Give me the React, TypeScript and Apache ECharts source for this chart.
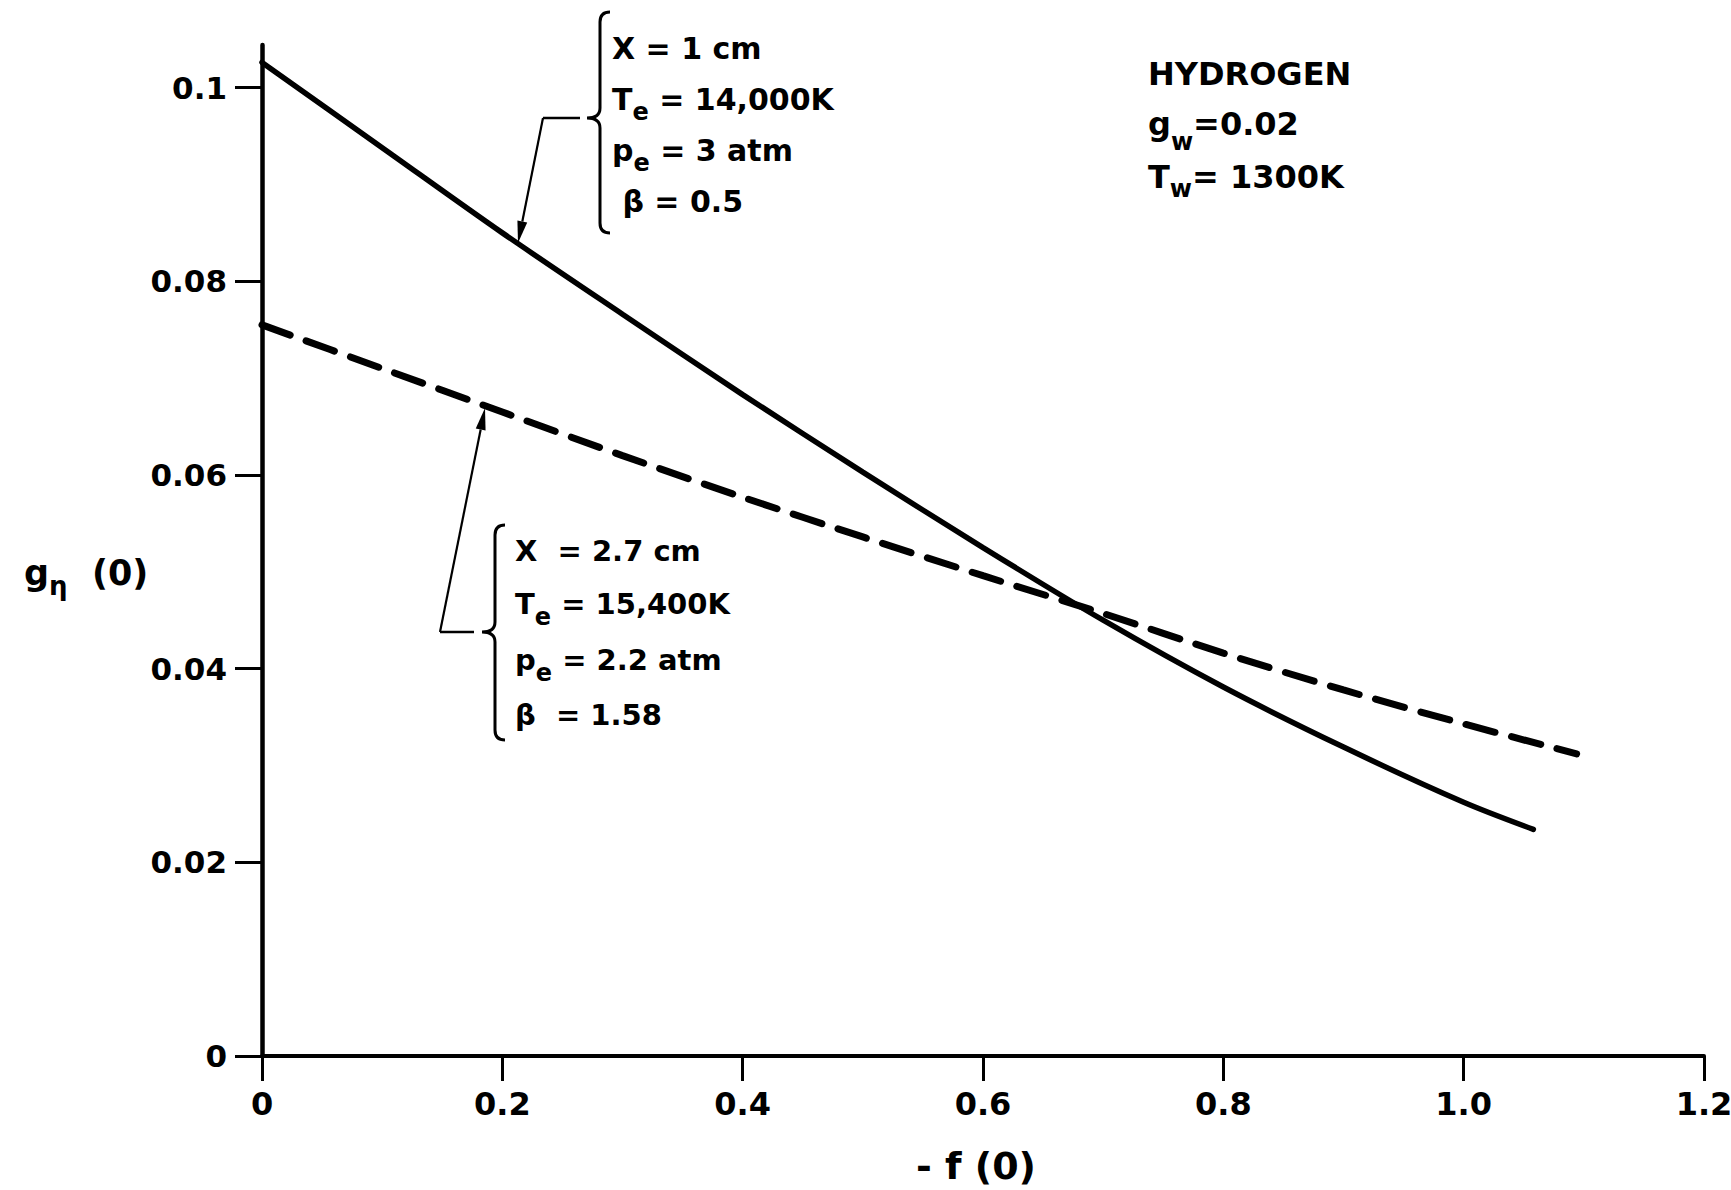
import React, { useEffect, useRef } from 'react';
import * as echarts from 'echarts';

// ---- data ----
const xTicks = [0, 0.2, 0.4, 0.6, 0.8, 1.0, 1.2];
const yTicks = [0, 0.02, 0.04, 0.06, 0.08, 0.1];

// case 1: X = 1 cm (solid)
const solidX = [0, 0.1, 0.2, 0.3, 0.4, 0.5, 0.6, 0.7, 0.8, 0.9, 1.0, 1.058];
const solidY = [0.1026, 0.0938, 0.085, 0.0766, 0.0683, 0.0603, 0.0525, 0.045, 0.0381, 0.0319, 0.0262, 0.0234];
// case 2: X = 2.7 cm (dashed)
const dashedX = [0, 0.1, 0.2, 0.3, 0.4, 0.5, 0.6, 0.7, 0.8, 0.9, 1.0, 1.094];
const dashedY = [0.0755, 0.071, 0.0665, 0.062, 0.0577, 0.0536, 0.0496, 0.0457, 0.0416, 0.0378, 0.0343, 0.0312];

const topBlock = ['{m|X = 1 cm}', '{m|T}{s|e}{m| = 14,000K}', '{m|p}{s|e}{m| = 3 atm}', '{m| β = 0.5}'];
const bottomBlock = ['{m|X  = 2.7 cm}', '{m|T}{s|e}{m| = 15,400K}', '{m|p}{s|e}{m| = 2.2 atm}', '{m|β  = 1.58}'];
const infoBlock = ['{m|HYDROGEN}', '{m|g}{sl|w}{m|=0.02}', '{m|T}{s|w}{m|= 1300K}'];

const FONT = '"DejaVu Sans", sans-serif';

function bracePath(x: number, top: number, cusp: number, bottom: number, depth = 13, r = 10) {
  return `M ${x + r} ${top} Q ${x} ${top} ${x} ${top + r} L ${x} ${cusp - r} Q ${x} ${cusp} ${x - depth} ${cusp} Q ${x} ${cusp} ${x} ${cusp + r} L ${x} ${bottom - r} Q ${x} ${bottom} ${x + r} ${bottom}`;
}

let registered = false;
function registerShapes() {
  if (registered) return;
  registered = true;
  echarts.graphic.registerShape('braceTop', echarts.graphic.extendPath(bracePath(600, 12, 118, 233), {}));
  echarts.graphic.registerShape('braceBottom', echarts.graphic.extendPath(bracePath(495, 525, 632, 740), {}));
}

function arrow(x1: number, y1: number, x2: number, y2: number) {
  const dx = x2 - x1, dy = y2 - y1;
  const L = Math.sqrt(dx * dx + dy * dy);
  const ux = dx / L, uy = dy / L;
  const nx = -uy, ny = ux;
  const hl = 22, hw = 5;
  const bx = x2 - ux * hl, by = y2 - uy * hl;
  return [
    { type: 'line', shape: { x1, y1, x2: bx, y2: by }, style: { stroke: '#000', lineWidth: 2.2 } },
    { type: 'polygon', shape: { points: [[x2, y2], [bx + nx * hw, by + ny * hw], [bx - nx * hw, by - ny * hw]] }, style: { fill: '#000' } },
  ];
}

const richStyles = (size: number, sub: number) => ({
  m: { fontSize: size, fontFamily: FONT, fontWeight: 'bold', lineHeight: 34, verticalAlign: 'top', fill: '#000' },
  s: { fontSize: sub, fontFamily: FONT, fontWeight: 'bold', lineHeight: sub, padding: [16, 0, 0, 0], verticalAlign: 'top', fill: '#000' },
  sl: { fontSize: sub, fontFamily: FONT, fontWeight: 'bold', lineHeight: sub, padding: [22, 0, 0, 0], verticalAlign: 'top', fill: '#000' },
});

function textBlock(lines: string[], x: number, centers: number[], size: number, sub: number) {
  return lines.map((t, i) => ({
    type: 'text',
    x,
    y: centers[i] - 17,
    style: { text: t, rich: richStyles(size, sub), align: 'left', verticalAlign: 'top' },
  }));
}

export default function App() {
  const ref = useRef<HTMLDivElement>(null);
  useEffect(() => {
    if (!ref.current) return;
    registerShapes();
    const chart = echarts.init(ref.current, null, { renderer: 'svg' });
    const option: any = {
      animation: false,
      backgroundColor: '#fff',
      grid: { left: 262, right: 27, top: 45, bottom: 134, containLabel: false, outerBoundsMode: 'none' },
      xAxis: {
        type: 'value',
        min: 0,
        max: 1.2,
        interval: 0.2,
        axisLine: { show: true, lineStyle: { color: '#000', width: 4 } },
        axisTick: { show: true, length: 25, lineStyle: { color: '#000', width: 3 } },
        axisLabel: {
          margin: 32,
          color: '#000',
          fontFamily: FONT,
          fontWeight: 'bold',
          fontSize: 32,
          formatter: (v: number) => (v === 0 ? '0' : v.toFixed(1)),
          customValues: xTicks,
        },
        splitLine: { show: false },
      },
      yAxis: {
        type: 'value',
        min: 0,
        max: 0.1044,
        axisLine: { show: true, lineStyle: { color: '#000', width: 4.5 } },
        axisTick: { show: true, length: 27, lineStyle: { color: '#000', width: 3 }, customValues: yTicks },
        axisLabel: {
          margin: 35,
          color: '#000',
          fontFamily: FONT,
          fontWeight: 'bold',
          fontSize: 31,
          customValues: yTicks,
          formatter: (v: number) => (v === 0 ? '0' : String(+v.toFixed(2))),
        },
        splitLine: { show: false },
      },
      series: [
        {
          name: 'X = 1 cm',
          type: 'line',
          data: solidX.map((x, i) => [x, solidY[i]]),
          smooth: 0.3,
          symbol: 'none',
          lineStyle: { color: '#000', width: 5.5, cap: 'round' },
        },
        {
          name: 'X = 2.7 cm',
          type: 'line',
          data: dashedX.map((x, i) => [x, dashedY[i]]),
          smooth: 0.3,
          symbol: 'none',
          lineStyle: { color: '#000', width: 7, type: [30, 17], cap: 'round' },
        },
      ],
      graphic: [
        { type: 'braceTop', style: { stroke: '#000', fill: 'none', lineWidth: 3 } },
        { type: 'braceBottom', style: { stroke: '#000', fill: 'none', lineWidth: 3 } },
        { type: 'line', shape: { x1: 543, y1: 118, x2: 580, y2: 118 }, style: { stroke: '#000', lineWidth: 2.5 } },
        ...arrow(543, 118, 518, 243),
        { type: 'line', shape: { x1: 440, y1: 632, x2: 474, y2: 632 }, style: { stroke: '#000', lineWidth: 2.5 } },
        ...arrow(440, 632, 485, 408),
        ...textBlock(topBlock, 612, [50, 101, 152, 203], 30, 24),
        ...textBlock(bottomBlock, 515, [553, 606, 662, 717], 29, 24),
        ...textBlock(infoBlock, 1148, [75, 125, 178], 32, 24),
        {
          type: 'text',
          x: 24,
          y: 572 - 17,
          style: {
            text: '{m|g}{sl|η}{m|  (0)}',
            rich: {
              m: { fontSize: 35, fontFamily: FONT, fontWeight: 'bold', lineHeight: 34, verticalAlign: 'top', fill: '#000' },
              sl: { fontSize: 26, fontFamily: FONT, fontWeight: 'bold', lineHeight: 26, padding: [18, 0, 0, 0], verticalAlign: 'top', fill: '#000' },
            },
            align: 'left',
            verticalAlign: 'top',
          },
        },
        {
          type: 'text',
          x: 976,
          y: 1166,
          style: {
            text: '- f (0)',
            fontSize: 38,
            fontFamily: FONT,
            fontWeight: 'bold',
            fill: '#000',
            align: 'center',
            verticalAlign: 'middle',
          },
        },
      ],
    };
    chart.setOption(option);
    return () => chart.dispose();
  }, []);
  return (
    <div
      ref={ref}
      style={{ position: 'fixed', left: 0, top: 0, width: 1731, height: 1190, background: '#fff' }}
    />
  );
}
